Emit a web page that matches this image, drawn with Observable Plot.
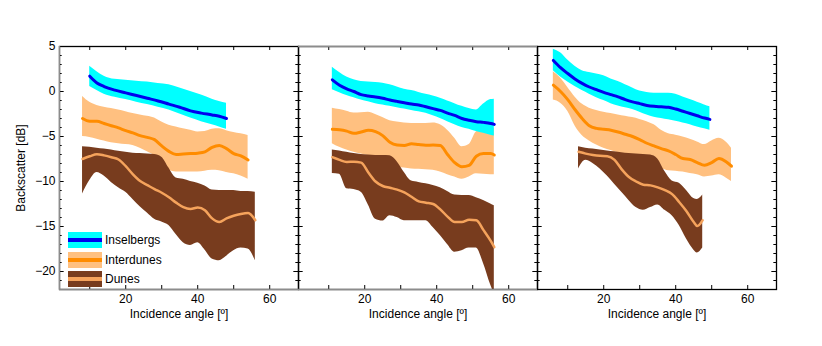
<!DOCTYPE html>
<html>
<head>
<meta charset="utf-8">
<script src="https://cdn.jsdelivr.net/npm/d3@7"></script>
<script src="https://cdn.jsdelivr.net/npm/@observablehq/plot@0.6"></script>
<style>
  html, body { margin: 0; padding: 0; background: white; }
  #wrap { position: relative; width: 822px; height: 346px; font-family: "Liberation Sans", Arial, sans-serif; }
  #legend { position: absolute; left: 68px; top: 232px; }
  .row { position: relative; height: 19.7px; }
  .sw { position: absolute; left: 0; top: 0; width: 34px; height: 16px; }
  .ln { position: absolute; left: 0; top: 6px; width: 34px; height: 4px; }
  .lab { position: absolute; left: 37px; top: 0; line-height: 16px; font-size: 12px; color: black; white-space: nowrap; }
</style>
</head>
<body>
<div id="wrap"></div>
<script>
// ---- Data (three panels: index 0,1,2) ----
const seriesNames = ["Inselbergs", "Interdunes", "Dunes"];
const bandColors = ["#00ffff", "#ffc080", "#783c1e"];
const lineColors = ["#0000ee", "#ff8c00", "#f5a35c"];

const inselbergsX = [
  [10, 12, 14, 17, 20, 23, 26, 29, 32, 35, 38, 41, 44, 46, 48],
  [11, 13, 15, 17, 19, 21, 23, 25, 27, 29, 31, 33, 35, 37, 39, 41, 43, 45, 47, 49, 51, 53, 55, 56],
  [6, 8, 10, 12, 14, 16, 18, 20, 22, 24, 26, 28, 30, 32, 34, 36, 38, 40, 42, 44, 46, 48, 49.5]
];
const inselbergsMean = [
  [1.7, 0.95, 0.55, 0.15, -0.15, -0.45, -0.75, -1.05, -1.4, -1.75, -2.15, -2.4, -2.6, -2.75, -3.0],
  [1.3, 0.7, 0.3, 0.0, -0.35, -0.5, -0.6, -0.75, -0.95, -1.1, -1.25, -1.4, -1.5, -1.7, -1.9, -2.1, -2.4, -2.65, -3.0, -3.2, -3.35, -3.43, -3.55, -3.65],
  [3.45, 2.65, 2.0, 1.4, 0.9, 0.5, 0.2, -0.1, -0.35, -0.6, -0.9, -1.15, -1.35, -1.55, -1.65, -1.7, -1.75, -1.95, -2.2, -2.45, -2.7, -2.95, -3.1]
];
const inselbergsHigh = [
  [2.8, 2.2, 1.7, 1.35, 1.25, 1.15, 1.05, 0.9, 0.75, 0.4, 0.0, -0.4, -0.85, -1.1, -1.3],
  [2.7, 2.1, 1.6, 1.3, 1.1, 1.05, 1.0, 0.93, 0.75, 0.5, 0.25, 0.1, -0.1, -0.3, -0.5, -0.75, -1.05, -1.35, -1.65, -1.9, -2.05, -1.4, -0.9, -0.85],
  [4.7, 4.3, 3.5, 2.8, 2.3, 2.1, 1.95, 1.75, 1.4, 1.1, 0.75, 0.4, 0.05, -0.1, -0.2, -0.2, -0.2, -0.3, -0.6, -0.9, -1.2, -1.5, -1.7]
];
const inselbergsLow = [
  [0.55, 0.1, -0.3, -0.65, -0.9, -1.2, -1.45, -1.75, -2.05, -2.5, -2.95, -3.35, -3.7, -3.95, -4.2],
  [0.2, -0.15, -0.45, -0.7, -0.95, -1.15, -1.35, -1.5, -1.65, -1.8, -1.95, -2.1, -2.25, -2.42, -2.7, -3.0, -3.35, -3.7, -4.0, -4.2, -4.45, -4.65, -4.85, -4.95],
  [2.3, 1.6, 1.05, 0.55, 0.1, -0.3, -0.7, -1.0, -1.35, -1.6, -1.8, -2.0, -2.3, -2.6, -2.85, -3.0, -3.15, -3.3, -3.5, -3.7, -3.95, -4.15, -4.3]
];

const interdunesX = [
  [8, 10, 12, 14, 16, 18, 20, 22, 24, 26, 28, 30, 32, 34, 36, 38, 40, 42, 44, 46, 48, 50, 52, 54],
  [11, 13, 15, 17, 19, 21, 23, 25, 27, 29, 31, 33, 35, 37, 39, 41, 43, 45, 47, 49, 51, 53, 55, 56],
  [6, 8, 10, 12, 14, 16, 18, 20, 22, 24, 26, 28, 30, 32, 34, 36, 38, 40, 42, 44, 46, 48, 50, 52, 54, 55.5]
];
const interdunesMean = [
  [-3.0, -3.3, -3.3, -3.55, -3.8, -4.05, -4.35, -4.6, -4.9, -5.1, -5.35, -6.05, -6.65, -7.0, -6.95, -6.9, -6.85, -6.7, -6.2, -6.0, -6.35, -6.9, -7.15, -7.6],
  [-4.2, -4.25, -4.4, -4.65, -4.5, -4.3, -4.45, -4.9, -5.65, -5.95, -6.0, -5.8, -5.9, -5.97, -5.95, -6.0, -7.0, -7.9, -8.35, -8.2, -7.2, -6.9, -6.9, -7.05],
  [0.7, 0.0, -0.9, -2.0, -3.0, -3.8, -4.1, -4.2, -4.3, -4.5, -4.75, -5.0, -5.35, -5.75, -6.05, -6.35, -6.6, -7.0, -7.45, -7.55, -7.9, -8.2, -7.9, -7.45, -7.8, -8.3]
];
const interdunesHigh = [
  [-0.55, -1.2, -1.55, -1.75, -1.9, -2.05, -2.25, -2.45, -2.6, -2.75, -2.95, -3.4, -3.75, -3.95, -4.15, -4.3, -4.5, -4.45, -4.2, -4.15, -4.35, -4.55, -4.7, -4.9],
  [-1.85, -2.0, -2.2, -2.4, -2.35, -2.3, -2.55, -2.9, -3.25, -3.4, -3.5, -3.55, -3.55, -3.55, -3.5, -3.7, -4.3, -5.2, -6.15, -5.9, -4.5, -4.2, -4.1, -4.1],
  [2.2, 1.5, 0.45, -0.6, -1.4, -1.85, -2.1, -2.3, -2.45, -2.6, -2.75, -2.9, -3.1, -3.35, -3.7, -4.3, -4.7, -4.85, -5.05, -5.3, -5.6, -5.9, -5.5, -5.2, -5.6, -6.3]
];
const interdunesLow = [
  [-5.0, -5.1, -5.3, -5.5, -5.7, -5.8, -5.9, -6.0, -6.3, -6.7, -7.15, -8.0, -8.7, -8.95, -8.95, -8.95, -8.95, -8.85, -8.75, -8.8, -9.0, -9.15, -9.4, -9.75],
  [-5.8, -6.2, -6.5, -6.75, -6.95, -7.1, -7.25, -7.6, -8.2, -8.45, -8.5, -8.6, -8.65, -8.7, -8.75, -8.95, -9.25, -9.5, -9.75, -9.5, -9.15, -9.2, -9.25, -9.25],
  [-0.95, -1.3, -2.2, -3.8, -4.9, -5.5, -5.95, -6.3, -6.55, -6.8, -7.05, -7.35, -7.6, -7.9, -8.25, -8.55, -8.8, -8.85, -8.95, -9.1, -9.25, -9.5, -9.4, -9.25, -9.6, -10.0]
];

const dunesX = [
  [8, 10, 12, 14, 16, 18, 20, 22, 24, 26, 28, 30, 32, 34, 36, 38, 40, 42, 44, 46, 48, 50, 52, 54, 56],
  [11, 13, 15, 17, 19, 21, 23, 25, 27, 29, 31, 33, 35, 37, 39, 41, 43, 45, 47, 49, 51, 53, 55, 56],
  [13, 15, 17, 19, 21, 23, 25, 27, 29, 31, 33, 35, 37, 39, 41, 43, 45, 46, 47.5]
];
const dunesMean = [
  [-7.5, -7.2, -6.97, -7.1, -7.3, -7.55, -8.3, -9.2, -9.95, -10.4, -10.85, -11.25, -11.75, -12.35, -12.85, -13.05, -12.9, -13.2, -14.1, -14.5, -14.1, -13.8, -13.6, -13.5, -14.3],
  [-7.3, -7.6, -7.82, -7.8, -7.9, -9.0, -10.0, -10.5, -10.7, -10.9, -11.2, -11.7, -12.2, -12.35, -12.5, -13.1, -13.9, -14.5, -14.5, -14.25, -14.3, -15.4, -16.6, -17.3],
  [-6.7, -6.9, -7.05, -7.15, -7.2, -7.6, -8.65, -9.5, -10.0, -10.35, -10.43, -10.65, -10.95, -11.4, -12.3, -13.3, -14.5, -14.95, -14.3]
];
const dunesHigh = [
  [-6.15, -6.2, -6.3, -6.4, -6.5, -6.65, -6.75, -6.85, -6.9, -6.95, -7.0, -7.3, -8.5, -9.6, -9.75, -10.0, -10.2, -10.5, -10.95, -11.0, -11.0, -11.0, -11.1, -11.1, -11.2],
  [-6.5, -6.6, -6.75, -6.9, -7.0, -7.05, -7.1, -7.1, -7.15, -7.8, -9.0, -9.95, -10.1, -10.25, -10.45, -10.7, -11.1, -11.5, -11.55, -11.55, -11.8, -12.1, -12.5, -12.7],
  [-6.15, -6.3, -6.4, -6.5, -6.6, -6.7, -6.8, -6.9, -6.95, -7.0, -7.05, -7.5, -8.9, -9.95, -10.2, -11.0, -11.9, -12.0, -11.5]
];
const dunesLow = [
  [-11.4, -9.9, -9.0, -9.4, -10.1, -10.7, -11.2, -12.0, -12.8, -13.5, -14.2, -14.5, -14.9, -15.9, -16.8, -17.1, -16.8, -17.6, -18.6, -18.8, -18.3, -17.7, -17.4, -17.5, -18.8],
  [-9.1, -9.2, -10.8, -10.9, -11.2, -12.6, -14.2, -14.4, -13.8, -14.0, -14.35, -14.35, -14.35, -14.35, -15.1, -16.0, -17.0, -17.85, -17.7, -17.4, -17.4, -19.1, -21.5, -22.5],
  [-8.6, -7.65, -8.0, -8.6, -9.4, -10.3, -11.2, -12.1, -12.9, -13.2, -12.9, -12.6, -13.2, -13.8, -14.9, -16.4, -17.6, -17.95, -17.4]
];

// axes / ticks
const panels = [0, 1, 2];
const xDomain = [1.6, 68];
const yDomain = [-22, 5];
const xTicks = [10, 20, 30, 40, 50, 60];
const xTickLabels = [20, 40, 60];
const yMajor = [5, 0, -5, -10, -15, -20];
const yMinor = [4, 3, 2, 1, -1, -2, -3, -4, -6, -7, -8, -9, -11, -12, -13, -14, -16, -17, -18, -19, -21];
const xLabel = "Incidence angle [º]";
const yLabel = "Backscatter [dB]";

// ---- Build tables ----
function rows(name, X, M, L, H) {
  return X.flatMap((xs, p) => xs.map((x, i) => ({series: name, panel: p, x, mean: M[p][i], lo: L[p][i], hi: H[p][i]})));
}
const insel = rows("Inselbergs", inselbergsX, inselbergsMean, inselbergsLow, inselbergsHigh);
const inter = rows("Interdunes", interdunesX, interdunesMean, interdunesLow, interdunesHigh);
const dunes = rows("Dunes", dunesX, dunesMean, dunesLow, dunesHigh);

const W = 822, H = 346, mT = 46, mB = 57, mL = 58, mR = 46;
const fw = (W - mL - mR) / 3, fh = H - mT - mB;
const gray = "#8c8c8c";

function seriesMarks(data, k) {
  return [
    Plot.areaY(data, {x: "x", y1: "lo", y2: "hi", fx: "panel", z: "panel", fill: bandColors[k], curve: "monotone-x", clip: true}),
    Plot.line(data, {x: "x", y: "mean", fx: "panel", z: "panel", stroke: lineColors[k], strokeWidth: k === 2 ? 2.5 : 3, curve: "monotone-x", clip: true})
  ];
}

const chart = Plot.plot({
  width: W, height: H,
  marginTop: mT, marginBottom: mB, marginLeft: mL, marginRight: mR,
  style: {fontSize: "12px", fontFamily: "'Liberation Sans', Arial, sans-serif", background: "white", color: "black"},
  x: {domain: xDomain},
  y: {domain: yDomain},
  fx: {domain: panels, padding: 0, axis: null},
  marks: [
    ...seriesMarks(inter, 1),
    ...seriesMarks(insel, 0),
    ...seriesMarks(dunes, 2),
    // inward ticks
    Plot.tickY(yMinor, {y: d => d, insetRight: fw - 3, stroke: "black"}),
    Plot.tickY(yMajor, {y: d => d, insetRight: fw - 5, stroke: "black"}),
    Plot.tickY(yMinor, {y: d => d, insetLeft: fw - 3, stroke: "black"}),
    Plot.tickY(yMajor, {y: d => d, insetLeft: fw - 5, stroke: "black"}),
    Plot.tickX(xTicks, {x: d => d, insetTop: fh - 4, stroke: "black"}),
    Plot.tickX(xTicks, {x: d => d, insetBottom: fh - 4, stroke: "black"}),
    // frame
    Plot.frame({stroke: "black", strokeWidth: 1.3}),
    Plot.ruleX([0], {fx: d => d, x: () => xDomain[0], stroke: gray, strokeWidth: 1.3}),
    Plot.ruleY([0, 1], {fx: d => d, y: () => yDomain[0], stroke: gray, strokeWidth: 1.3}),
    Plot.ruleY([1], {fx: d => d, y: () => yDomain[1], stroke: gray, strokeWidth: 1.3}),
    // axes
    Plot.axisY({anchor: "left", ticks: yMajor, tickSize: 0, tickPadding: 4, label: null}),
    Plot.axisX({anchor: "bottom", ticks: xTickLabels, tickSize: 0, tickPadding: 5, label: null}),
    Plot.text(panels, {fx: d => d, text: () => xLabel, frameAnchor: "bottom", lineAnchor: "middle", textAnchor: "middle", dy: 25, fontSize: 12}),
    Plot.text([0], {fx: d => d, text: () => yLabel, frameAnchor: "left", lineAnchor: "middle", textAnchor: "middle", rotate: -90, dx: -38, fontSize: 12})
  ]
});

const wrap = document.getElementById("wrap");
wrap.appendChild(chart);

// legend
const legend = document.createElement("div");
legend.id = "legend";
seriesNames.forEach((name, k) => {
  const row = document.createElement("div");
  row.className = "row";
  row.innerHTML = `<div class="sw" style="background:${bandColors[k]}"></div><div class="ln" style="background:${lineColors[k]}"></div><div class="lab">${name}</div>`;
  legend.appendChild(row);
});
wrap.appendChild(legend);
</script>
</body>
</html>
